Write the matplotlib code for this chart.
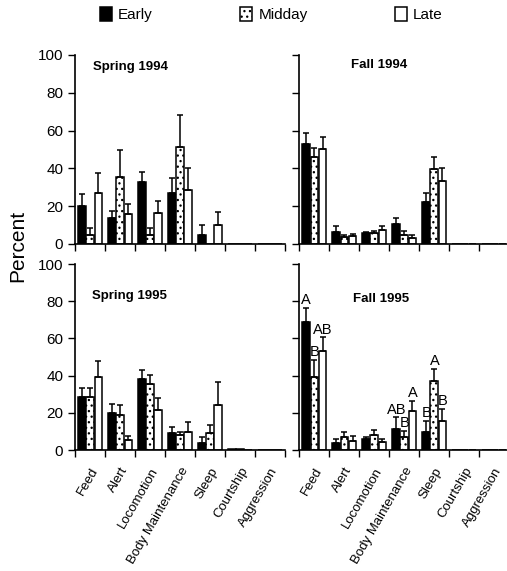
import numpy as np
import matplotlib.pyplot as plt
from matplotlib.patches import Patch

plt.rcParams['font.family'] = ['Liberation Sans', 'DejaVu Sans']
plt.rcParams['hatch.linewidth'] = 0.9

behaviours = ['Feed', 'Alert', 'Locomotion', 'Body Maintenance', 'Sleep',
              'Courtship', 'Aggression']
times = ['Early', 'Midday', 'Late']

# Spring 1994
spring94_early = [20, 14, 33, 27, 5, 0, 0]
spring94_early_err = [6.5, 3.5, 5, 8, 5, 0, 0]
spring94_mid = [5, 35.5, 5, 51.5, 0, 0, 0]
spring94_mid_err = [3.5, 14, 3.5, 16.5, 0, 0, 0]
spring94_late = [27, 16, 16.5, 28.5, 10, 0, 0]
spring94_late_err = [10.5, 5, 6, 11.5, 7, 0, 0]

# Fall 1994
fall94_early = [53, 6.5, 6, 10.5, 22, 0, 0]
fall94_early_err = [5.5, 3, 0.5, 3.5, 5, 0, 0]
fall94_mid = [46, 3.5, 6, 5, 39.5, 0, 0]
fall94_mid_err = [5, 1, 1, 2, 6.5, 0, 0]
fall94_late = [50, 4, 7.5, 3, 33.5, 0, 0]
fall94_late_err = [6.5, 1.5, 2, 2, 6.5, 0, 0]

# Spring 1995
spring95_early = [28.5, 20, 38, 9, 3.5, 0.6, 0]
spring95_early_err = [5, 5, 5, 3.5, 3.5, 0, 0]
spring95_mid = [28.5, 19, 35.5, 8, 9, 0.3, 0]
spring95_mid_err = [5, 5, 5, 1.5, 4.5, 0, 0]
spring95_late = [39, 5.5, 21.5, 9.5, 24, 0, 0]
spring95_late_err = [9, 2, 6.5, 5.5, 12.5, 0, 0]

# Fall 1995
fall95_early = [69, 3.5, 6, 11.5, 9.5, 0, 0]
fall95_early_err = [7.5, 2.5, 1.2, 6, 6, 0, 0]
fall95_mid = [39.5, 7, 8, 7, 37, 0, 0]
fall95_mid_err = [9, 2.5, 2.5, 3, 6.5, 0, 0]
fall95_late = [53, 5, 4.5, 21, 15.5, 0, 0]
fall95_late_err = [7.5, 2.5, 1.5, 5.5, 6.5, 0, 0]
fall95_early_lbl = ['A', '', '', 'AB', 'B', '', '']
fall95_mid_lbl = ['B', '', '', 'B', 'A', '', '']
fall95_late_lbl = ['AB', '', '', 'A', 'B', '', '']

panels = [
    ('Spring 1994', [spring94_early, spring94_mid, spring94_late],
     [spring94_early_err, spring94_mid_err, spring94_late_err], None),
    ('Fall 1994', [fall94_early, fall94_mid, fall94_late],
     [fall94_early_err, fall94_mid_err, fall94_late_err], None),
    ('Spring 1995', [spring95_early, spring95_mid, spring95_late],
     [spring95_early_err, spring95_mid_err, spring95_late_err], None),
    ('Fall 1995', [fall95_early, fall95_mid, fall95_late],
     [fall95_early_err, fall95_mid_err, fall95_late_err],
     [fall95_early_lbl, fall95_mid_lbl, fall95_late_lbl]),
]

styles = [dict(color='black', hatch=None),
          dict(color='white', hatch='...'),
          dict(color='white', hatch=None)]
offsets = [0.24, 0.51, 0.78]
width = 0.26

fig = plt.figure(figsize=(5.07, 5.71), dpi=100)
positions = [
    [0.148, 0.5727, 0.414, 0.331],
    [0.590, 0.5727, 0.414, 0.331],
    [0.148, 0.2119, 0.414, 0.3257],
    [0.590, 0.2119, 0.414, 0.3257],
]
title_pos = [(0.085, 0.935), (0.245, 0.945), (0.08, 0.83), (0.255, 0.81)]

x = np.arange(len(behaviours))
for k, (title, vals, errs, lbls) in enumerate(panels):
    ax = fig.add_axes(positions[k])
    for j in range(3):
        v = np.array(vals[j], dtype=float)
        e = np.array(errs[j], dtype=float)
        xs = x + offsets[j]
        ax.bar(xs, v, width, facecolor=styles[j]['color'],
               edgecolor='black', linewidth=1.1, hatch=styles[j]['hatch'],
               zorder=2)
        m = e > 0
        ax.errorbar(xs[m], v[m], yerr=[np.zeros(m.sum()), e[m]], fmt='none',
                    ecolor='black', elinewidth=1.1, capsize=2.5,
                    capthick=1.1, zorder=3)
        if lbls is not None:
            for xi, vi, ei, s in zip(xs, v, e, lbls[j]):
                if s:
                    ax.text(xi, vi + ei + 0.5, s, ha='center', va='bottom',
                            fontsize=10.5)
    ax.set_xlim(0, 7)
    ax.set_ylim(0, 100)
    ax.spines['top'].set_visible(False)
    ax.spines['right'].set_visible(False)
    ax.spines['left'].set_linewidth(1.2)
    ax.spines['bottom'].set_linewidth(1.2)
    ax.set_yticks(np.arange(0, 101, 20))
    ax.set_xticks(np.arange(0, 8))
    ax.tick_params(axis='both', direction='out', length=5, width=1,
                   labelsize=11)
    ax.set_xticklabels([])
    if k % 2 == 1:
        ax.set_yticklabels([])
    if k >= 2:
        ax.set_xticks(x + 0.5, minor=True)
        ax.set_xticklabels(behaviours, minor=True, rotation=60, ha='right',
                           rotation_mode='anchor', fontsize=9.5)
        ax.tick_params(axis='x', which='minor', length=0, pad=11)
    ax.text(title_pos[k][0], title_pos[k][1], title, transform=ax.transAxes,
            fontsize=9.5, fontweight='bold', va='center', ha='left')

fig.text(0.035, 0.57, 'Percent', rotation=90, fontsize=15,
         ha='center', va='center')

handles = [Patch(facecolor=s['color'], edgecolor='black', hatch=s['hatch'],
                 linewidth=1.1) for s in styles]
fig.legend(handles, times, loc='center', bbox_to_anchor=(0.535, 0.975),
           ncol=3, frameon=False, columnspacing=5.7, handlelength=0.8,
           handleheight=1.1, handletextpad=0.4, fontsize=11)

fig.savefig('out.png', dpi=100)
